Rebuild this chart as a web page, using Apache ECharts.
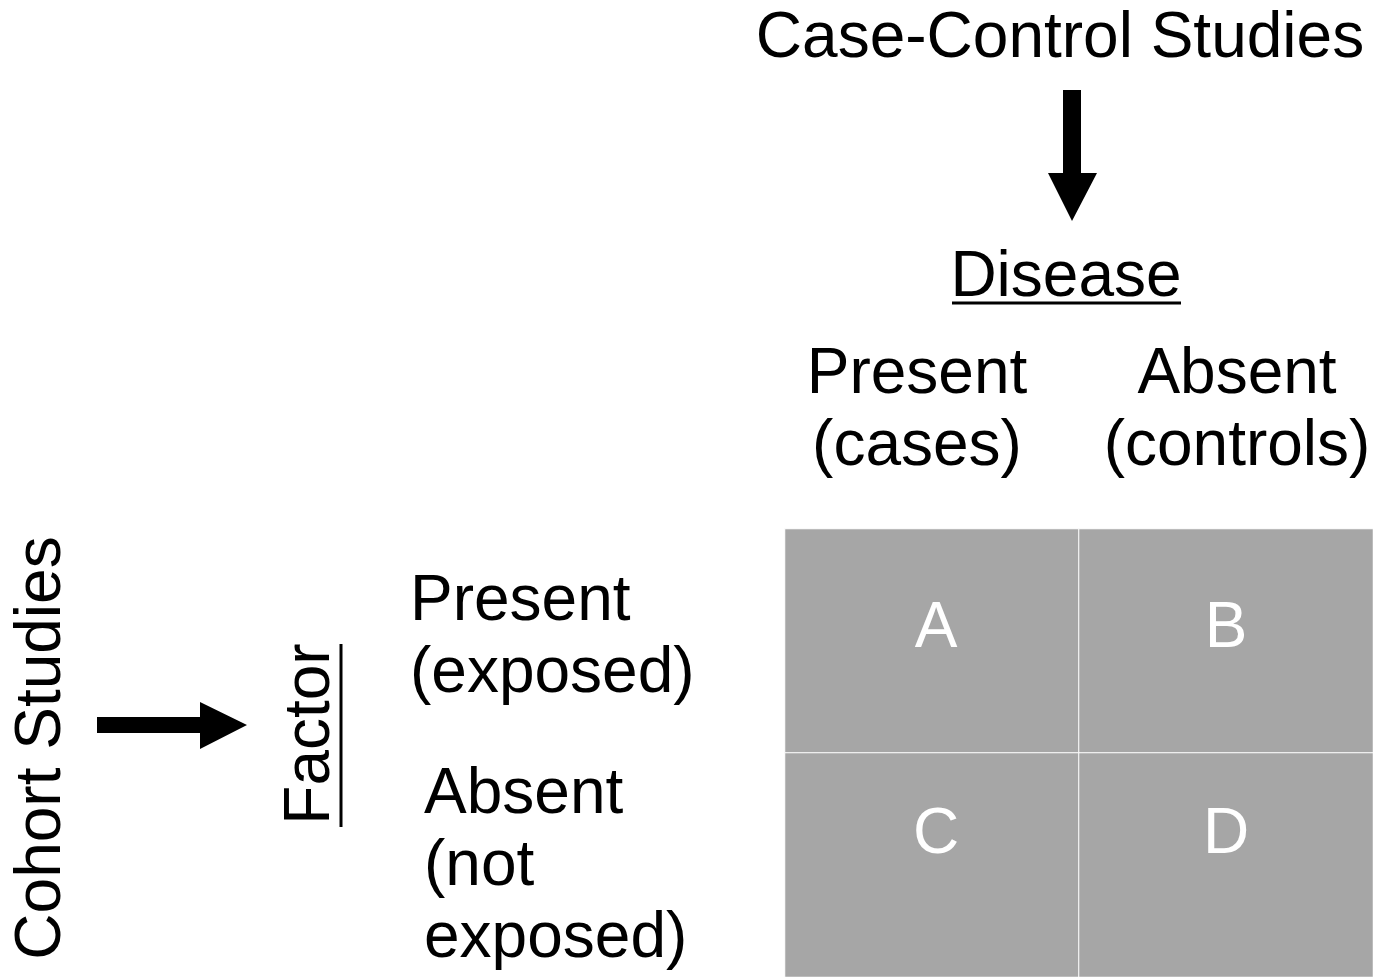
<!DOCTYPE html>
<html>
<head>
<meta charset="utf-8">
<script src="https://cdn.jsdelivr.net/npm/echarts@6/dist/echarts.min.js"></script>
<style>
  html, body { margin: 0; padding: 0; background: #fff; }
  #main { width: 1373px; height: 977px; }
</style>
</head>
<body>
<div id="main"></div>
<script>
// 2x2 table: disease (columns) by factor (rows)
const colLabels = ['Present\n(cases)', 'Absent\n(controls)'];
const rowLabels = ['Present\n(exposed)', 'Absent\n(not\nexposed)'];
const cellLetters = [['A', 'B'], ['C', 'D']];
const cellValues = [[1, 1], [1, 1]];

const FONT = '"Liberation Sans", Arial, Helvetica, sans-serif';
const rowLetterShift = [-12, -30];
const colLetterShift = [4, 0];

let cells = [];
for (let r = 0; r < rowLabels.length; r++) {
    for (let c = 0; c < colLabels.length; c++) {
        cells.push({
            value: [c, r, cellValues[r][c]],
            name: cellLetters[r][c],
            label: { offset: [colLetterShift[c], rowLetterShift[r]] }
        });
    }
}

function richLines (value, index) {
    return value.split('\n').map(function (l) { return '{t' + index + '|' + l + '}'; }).join('\n');
}

let chart = echarts.init(document.getElementById('main'));
let option = {
    animation: false,
    backgroundColor: '#fff',
    grid: { left: 785, top: 529, width: 590, height: 450 },
    xAxis: {
        type: 'category',
        position: 'top',
        data: colLabels,
        axisLine: { show: false },
        axisTick: { show: false },
        splitLine: { show: false },
        axisLabel: {
            margin: 46,
            interval: 0,
            formatter: richLines,
            rich: {
                t0: { fontFamily: FONT, fontSize: 64, lineHeight: 72, color: '#000', padding: [0, 30, 0, 0] },
                t1: { fontFamily: FONT, fontSize: 64, lineHeight: 72, color: '#000', padding: [0, 0, 0, 22] }
            }
        }
    },
    yAxis: {
        type: 'category',
        inverse: true,
        data: rowLabels,
        axisLine: { show: false },
        axisTick: { show: false },
        splitLine: { show: false },
        axisLabel: {
            margin: 375,
            align: 'left',
            interval: 0,
            formatter: richLines,
            rich: {
                t0: { fontFamily: FONT, fontSize: 64, lineHeight: 72, color: '#000', align: 'left', padding: [0, 0, 6, 0] },
                t1: { fontFamily: FONT, fontSize: 64, lineHeight: 72, color: '#000', align: 'left', padding: [4, 0, 0, 14] }
            }
        }
    },
    visualMap: {
        show: false,
        min: 0,
        max: 1,
        inRange: { color: ['#a6a6a6', '#a6a6a6'] }
    },
    series: [{
        type: 'heatmap',
        data: cells,
        itemStyle: { borderColor: '#ffffff', borderWidth: 1 },
        label: {
            show: true,
            formatter: function (p) { return p.name; },
            color: '#ffffff',
            fontFamily: FONT,
            fontSize: 64
        },
        emphasis: { disabled: true }
    }],
    graphic: [
        {
            type: 'text',
            x: 1060, y: 39,
            style: { text: 'Case-Control Studies', font: '64px ' + FONT, fill: '#000', align: 'center', verticalAlign: 'middle' }
        },
        {
            type: 'polygon',
            shape: { points: [[1063, 90], [1081, 90], [1081, 173], [1097, 173], [1072, 221], [1048, 173], [1063, 173]] },
            style: { fill: '#000' }
        },
        {
            type: 'text',
            x: 1066, y: 278,
            style: { text: 'Disease', font: '64px ' + FONT, fill: '#000', align: 'center', verticalAlign: 'middle' }
        },
        {
            type: 'line',
            shape: { x1: 952, y1: 303, x2: 1181, y2: 303 },
            style: { stroke: '#000', lineWidth: 3 }
        },
        {
            type: 'text',
            x: 42, y: 748,
            rotation: Math.PI / 2,
            style: { text: 'Cohort Studies', font: '64px ' + FONT, fill: '#000', align: 'center', verticalAlign: 'middle' }
        },
        {
            type: 'polygon',
            shape: { points: [[97, 717], [200, 717], [200, 702], [247, 725], [200, 749], [200, 733], [97, 733]] },
            style: { fill: '#000' }
        },
        {
            type: 'text',
            x: 311, y: 734,
            rotation: Math.PI / 2,
            style: { text: 'Factor', font: '64px ' + FONT, fill: '#000', align: 'center', verticalAlign: 'middle' }
        },
        {
            type: 'line',
            shape: { x1: 341, y1: 644, x2: 341, y2: 827 },
            style: { stroke: '#000', lineWidth: 3 }
        }
    ]
};
chart.setOption(option);
</script>
</body>
</html>
